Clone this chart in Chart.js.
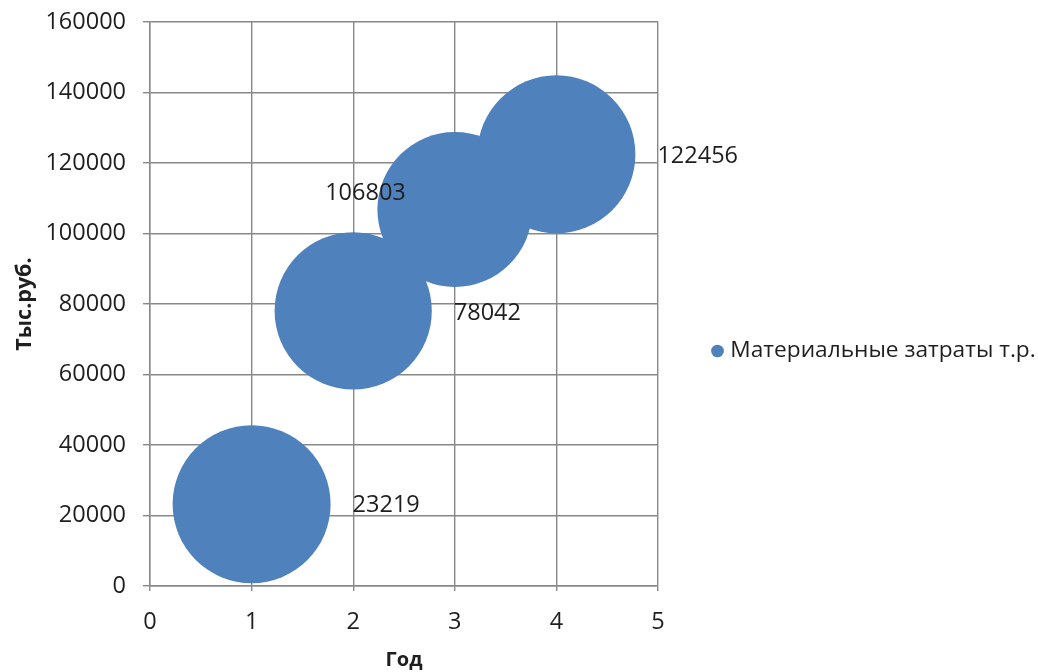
<!DOCTYPE html>
<html>
<head>
<meta charset="utf-8">
<script src="https://cdn.jsdelivr.net/npm/chart.js@4.4.1/dist/chart.umd.min.js"></script>
<style>
  html, body { margin: 0; padding: 0; background: #ffffff; }
  #c { display: block; }
</style>
</head>
<body>
<canvas id="c" width="1038" height="672"></canvas>
<script>
// Material costs by year, thousand roubles
const years = [1, 2, 3, 4];
const costs = [23219, 78042, 106803, 122456];
const bubbleSizes = [100, 99, 96, 100];
const seriesName = 'Материальные затраты т.р.';
const xTitle = 'Год';
const yTitle = 'Тыс.руб.';
const xTicks = [0, 1, 2, 3, 4, 5];
const yTicks = [0, 20000, 40000, 60000, 80000, 100000, 120000, 140000, 160000];

// styling
const FONT = '"Open Sans", "Noto Sans", sans-serif';
const TEXT = '#1e1e1e';
const GRID = '#888888';
const BLUE = '#4f81bd';
const NUM_SIZE = 23.5;
const MAX_RADIUS = 79;
const LEGEND_WIDTH = 380;
const LEGEND_SHIFT = 4;
const maxSize = Math.max(...bubbleSizes);

// where each value label sits relative to its bubble
const labelPlacement = [
  { side: 'right', dy: 1 },
  { side: 'right', dy: 2 },
  { side: 'left', dx: -49, dy: -16 },
  { side: 'right', dy: 2 }
];

const points = years.map((x, i) => ({
  x: x,
  y: costs[i],
  r: MAX_RADIUS * Math.sqrt(bubbleSizes[i] / maxSize)
}));

// value labels, painted over the bubbles
const valueLabels = {
  id: 'valueLabels',
  afterDatasetsDraw(chart) {
    const ctx = chart.ctx;
    const meta = chart.getDatasetMeta(0);
    ctx.save();
    ctx.font = NUM_SIZE + 'px ' + FONT;
    ctx.fillStyle = TEXT;
    ctx.textBaseline = 'middle';
    meta.data.forEach((el, i) => {
      const p = labelPlacement[i];
      const r = points[i].r;
      const txt = String(costs[i]);
      if (p.side === 'right') {
        ctx.textAlign = 'left';
        ctx.fillText(txt, el.x + r + 22, el.y + p.dy);
      } else {
        ctx.textAlign = 'right';
        ctx.fillText(txt, el.x + p.dx, el.y + p.dy);
      }
    });
    ctx.restore();
  }
};

// right-hand legend: fixed column width, item nudged slightly down
const legendColumn = {
  id: 'legendColumn',
  beforeLayout(chart) {
    const lg = chart.legend;
    if (lg && !lg._fixedWidth) {
      const fit = lg.fit;
      lg.fit = function () {
        fit.call(this);
        this.width = LEGEND_WIDTH;
      };
      const draw = lg.draw;
      lg.draw = function (...args) {
        const ctx = this.ctx;
        ctx.save();
        ctx.translate(0, LEGEND_SHIFT);
        draw.apply(this, args);
        ctx.restore();
      };
      lg._fixedWidth = true;
    }
  }
};

new Chart(document.getElementById('c'), {
  type: 'bubble',
  data: {
    datasets: [{
      label: seriesName,
      data: points,
      backgroundColor: BLUE,
      borderWidth: 0,
      hoverBackgroundColor: BLUE,
      hoverBorderWidth: 0
    }]
  },
  options: {
    responsive: false,
    animation: false,
    devicePixelRatio: 1,
    layout: { autoPadding: false, padding: { top: 22, left: 0, right: 0, bottom: 0 } },
    plugins: {
      tooltip: { enabled: false },
      legend: {
        position: 'right',
        labels: {
          usePointStyle: true,
          pointStyle: 'circle',
          boxWidth: 3,
          boxHeight: 9,
          padding: 58,
          color: TEXT,
          font: { family: FONT, size: 22.7 }
        }
      }
    },
    scales: {
      x: {
        type: 'linear',
        min: 0,
        max: 5,
        afterBuildTicks(scale) { scale.ticks = xTicks.map(v => ({ value: v })); },
        afterFit(scale) { scale.height = 86; },
        ticks: { color: TEXT, font: { family: FONT, size: NUM_SIZE }, padding: 17, callback: v => String(v) },
        grid: { color: GRID, lineWidth: 1.4, tickLength: 5 },
        border: { color: GRID, width: 1.4 },
        title: {
          display: true,
          text: xTitle,
          color: TEXT,
          font: { family: FONT, size: 20, weight: 'bold' },
          padding: { top: 0, bottom: 0 }
        }
      },
      y: {
        type: 'linear',
        min: 0,
        max: 160000,
        afterBuildTicks(scale) { scale.ticks = yTicks.map(v => ({ value: v })); },
        afterFit(scale) { scale.width = 150; },
        ticks: { color: TEXT, font: { family: FONT, size: NUM_SIZE, lineHeight: 0.4 }, padding: 17, callback: v => String(v) },
        grid: { color: GRID, lineWidth: 1.4, tickLength: 7 },
        border: { color: GRID, width: 1.4 },
        title: {
          display: true,
          text: yTitle,
          color: TEXT,
          font: { family: FONT, size: 21.5, weight: 'bold' },
          padding: { top: 12, bottom: 0 }
        }
      }
    }
  },
  plugins: [valueLabels, legendColumn]
});
</script>
</body>
</html>
